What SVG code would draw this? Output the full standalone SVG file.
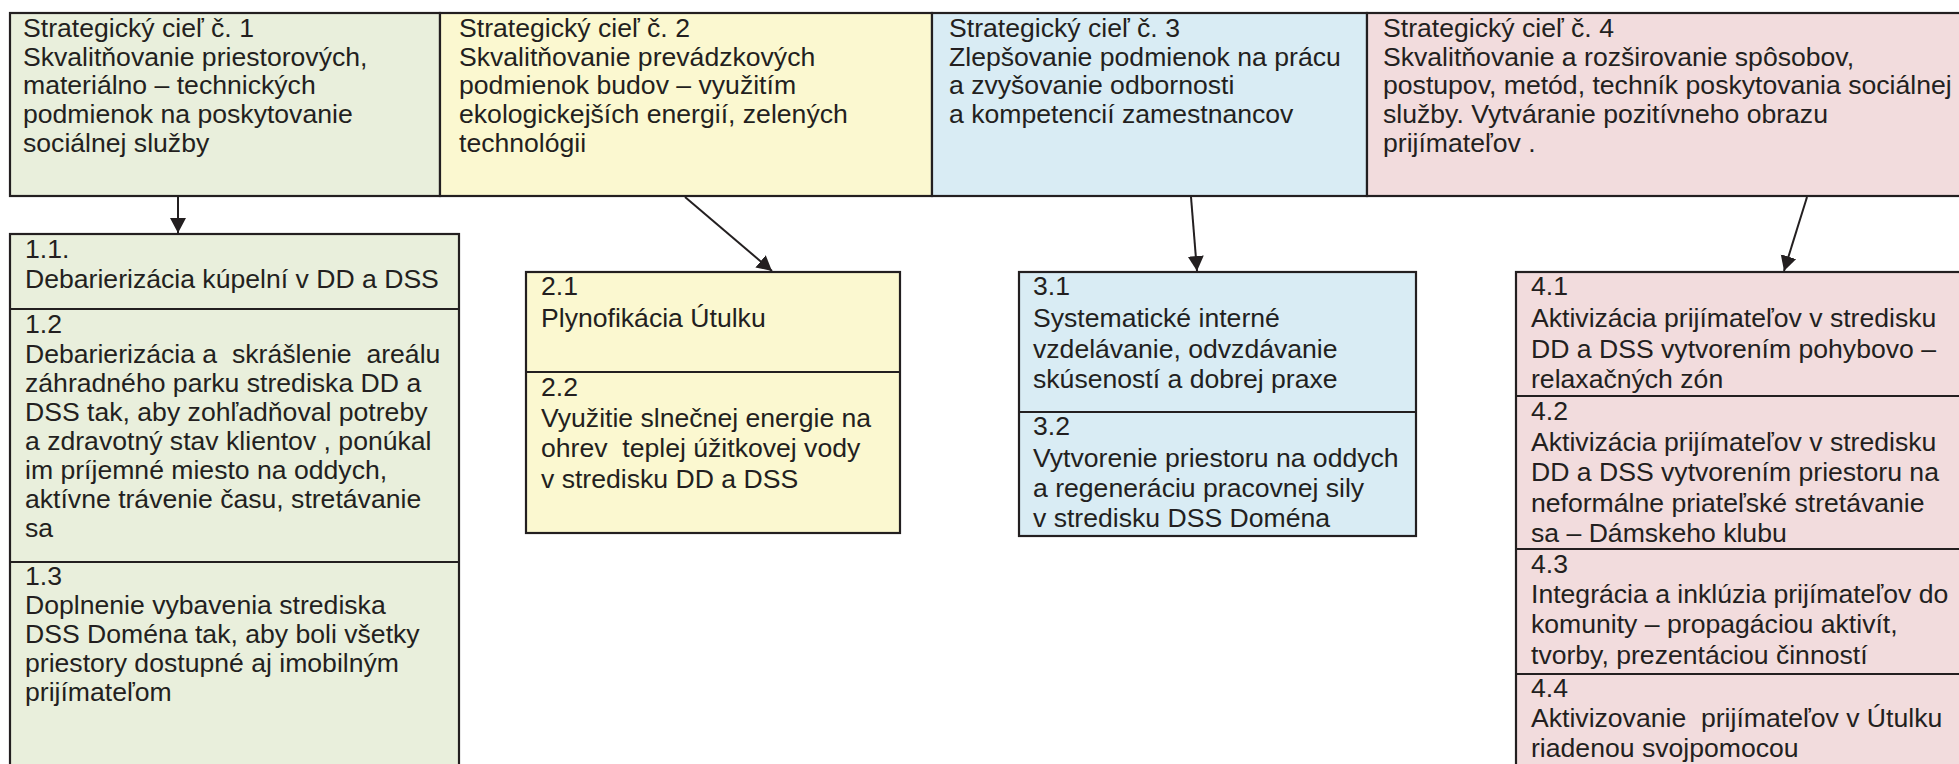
<svg xmlns="http://www.w3.org/2000/svg" width="1959" height="764" viewBox="0 0 1959 764">
<style>
.t{font-family:"Liberation Sans",Arial,Helvetica,sans-serif;font-size:26.6px;fill:#231f20;white-space:pre}
.b{stroke:#231f20;stroke-width:2.2}
.g{fill:#e9efdc}.y{fill:#fbf8d0}.c{fill:#d9ecf4}.p{fill:#f2dcdd}
.ln{stroke:#231f20;stroke-width:2;fill:none}
</style>
<defs>
<marker id="ah" markerUnits="userSpaceOnUse" markerWidth="18" markerHeight="18" refX="15" refY="8" orient="auto">
<path d="M0,0 L15,8 L0,16 Z" fill="#231f20"/>
</marker>
</defs>
<rect width="1959" height="764" fill="#fff"/>

<g id="goal1">
<rect class="b g" x="10" y="13" width="430" height="183"/>
<text class="t" x="23" y="37">Strategický cieľ č. 1</text>
<text class="t" x="23" y="65.7">Skvalitňovanie priestorových,</text>
<text class="t" x="23" y="94.4">materiálno – technických</text>
<text class="t" x="23" y="123.1">podmienok na poskytovanie</text>
<text class="t" x="23" y="151.8">sociálnej služby</text>
</g>
<g id="goal2">
<rect class="b y" x="440" y="13" width="492" height="183"/>
<text class="t" x="459" y="37">Strategický cieľ č. 2</text>
<text class="t" x="459" y="65.7">Skvalitňovanie prevádzkových</text>
<text class="t" x="459" y="94.4">podmienok budov – využitím</text>
<text class="t" x="459" y="123.1">ekologickejších energií, zelených</text>
<text class="t" x="459" y="151.8">technológii</text>
</g>
<g id="goal3">
<rect class="b c" x="932" y="13" width="435" height="183"/>
<text class="t" x="949" y="37">Strategický cieľ č. 3</text>
<text class="t" x="949" y="65.7">Zlepšovanie podmienok na prácu</text>
<text class="t" x="949" y="94.4">a zvyšovanie odbornosti</text>
<text class="t" x="949" y="123.1">a kompetencií zamestnancov</text>
</g>
<g id="goal4">
<rect class="b p" x="1367" y="13" width="600" height="183"/>
<text class="t" x="1383" y="37">Strategický cieľ č. 4</text>
<text class="t" x="1383" y="65.7">Skvalitňovanie a rozširovanie spôsobov,</text>
<text class="t" x="1383" y="94.4">postupov, metód, techník poskytovania sociálnej</text>
<text class="t" x="1383" y="123.1">služby. Vytváranie pozitívneho obrazu</text>
<text class="t" x="1383" y="151.8">prijímateľov .</text>
</g>

<g id="sub1">
<rect class="b g" x="10" y="234" width="449" height="540"/>
<line class="b" x1="10" y1="309" x2="459" y2="309"/>
<line class="b" x1="10" y1="562" x2="459" y2="562"/>
<text class="t" x="25" y="258">1.1.</text>
<text class="t" x="25" y="288">Debarierizácia kúpelní v DD a DSS</text>
<text class="t" x="25" y="333">1.2</text>
<text class="t" x="25" y="363">Debarierizácia a  skrášlenie  areálu</text>
<text class="t" x="25" y="392">záhradného parku strediska DD a</text>
<text class="t" x="25" y="421">DSS tak, aby zohľadňoval potreby</text>
<text class="t" x="25" y="450">a zdravotný stav klientov , ponúkal</text>
<text class="t" x="25" y="479">im príjemné miesto na oddych,</text>
<text class="t" x="25" y="508">aktívne trávenie času, stretávanie</text>
<text class="t" x="25" y="537">sa</text>
<text class="t" x="25" y="585">1.3</text>
<text class="t" x="25" y="614">Doplnenie vybavenia strediska</text>
<text class="t" x="25" y="643">DSS Doména tak, aby boli všetky</text>
<text class="t" x="25" y="672">priestory dostupné aj imobilným</text>
<text class="t" x="25" y="701">prijímateľom</text>
</g>

<g id="sub2">
<rect class="b y" x="526" y="272" width="374" height="261"/>
<line class="b" x1="526" y1="372" x2="900" y2="372"/>
<text class="t" x="541" y="295">2.1</text>
<text class="t" x="541" y="327">Plynofikácia Útulku</text>
<text class="t" x="541" y="396">2.2</text>
<text class="t" x="541" y="426.7">Využitie slnečnej energie na</text>
<text class="t" x="541" y="457.3">ohrev  teplej úžitkovej vody</text>
<text class="t" x="541" y="488">v stredisku DD a DSS</text>
</g>

<g id="sub3">
<rect class="b c" x="1019" y="272" width="397" height="264"/>
<line class="b" x1="1019" y1="412" x2="1416" y2="412"/>
<text class="t" x="1033" y="295">3.1</text>
<text class="t" x="1033" y="327">Systematické interné</text>
<text class="t" x="1033" y="358">vzdelávanie, odvzdávanie</text>
<text class="t" x="1033" y="388">skúseností a dobrej praxe</text>
<text class="t" x="1033" y="435">3.2</text>
<text class="t" x="1033" y="466.5">Vytvorenie priestoru na oddych</text>
<text class="t" x="1033" y="496.5">a regeneráciu pracovnej sily</text>
<text class="t" x="1033" y="527">v stredisku DSS Doména</text>
</g>

<g id="sub4">
<rect class="b p" x="1516" y="272" width="460" height="510"/>
<line class="b" x1="1516" y1="396" x2="1976" y2="396"/>
<line class="b" x1="1516" y1="549" x2="1976" y2="549"/>
<line class="b" x1="1516" y1="674" x2="1976" y2="674"/>
<text class="t" x="1531" y="295">4.1</text>
<text class="t" x="1531" y="327">Aktivizácia prijímateľov v stredisku</text>
<text class="t" x="1531" y="358">DD a DSS vytvorením pohybovo –</text>
<text class="t" x="1531" y="388">relaxačných zón</text>
<text class="t" x="1531" y="420">4.2</text>
<text class="t" x="1531" y="450.5">Aktivizácia prijímateľov v stredisku</text>
<text class="t" x="1531" y="481">DD a DSS vytvorením priestoru na</text>
<text class="t" x="1531" y="511.5">neformálne priateľské stretávanie</text>
<text class="t" x="1531" y="541.5">sa – Dámskeho klubu</text>
<text class="t" x="1531" y="573">4.3</text>
<text class="t" x="1531" y="603">Integrácia a inklúzia prijímateľov do</text>
<text class="t" x="1531" y="633">komunity – propagáciou aktivít,</text>
<text class="t" x="1531" y="664">tvorby, prezentáciou činností</text>
<text class="t" x="1531" y="696.5">4.4</text>
<text class="t" x="1531" y="726.5">Aktivizovanie  prijímateľov v Útulku</text>
<text class="t" x="1531" y="756.5">riadenou svojpomocou</text>
</g>

<g id="connectors">
<line class="ln" x1="178" y1="197" x2="178" y2="233" marker-end="url(#ah)"/>
<line class="ln" x1="685" y1="197" x2="772" y2="271" marker-end="url(#ah)"/>
<line class="ln" x1="1191" y1="197" x2="1197" y2="271" marker-end="url(#ah)"/>
<line class="ln" x1="1807" y1="197" x2="1784" y2="271" marker-end="url(#ah)"/>
</g>
</svg>
